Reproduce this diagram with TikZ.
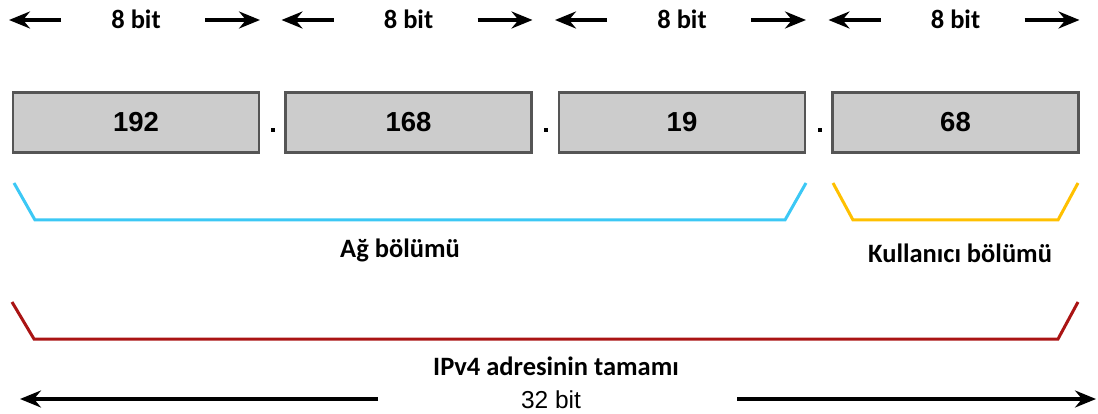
\documentclass[tikz,border=0pt]{standalone}
\usepackage{fontspec}
\setmainfont{Carlito}
\newfontfamily\arialfont{Liberation Sans}
\usetikzlibrary{arrows.meta}
\definecolor{boxfill}{RGB}{204,204,204}
\definecolor{boxline}{RGB}{85,85,85}
\definecolor{netblue}{RGB}{60,200,245}
\definecolor{hostgold}{RGB}{255,192,0}
\definecolor{fullred}{RGB}{170,20,20}
\tikzset{
  octet/.style={draw=boxline, line width=2.2pt, fill=boxfill, minimum width=246pt, minimum height=60pt,
    inner sep=0pt, font=\arialfont\bfseries\fontsize{27.5}{30}\selectfont},
  bitlabel/.style={font=\bfseries\fontsize{26.5}{28}\selectfont, inner sep=0pt},
  partlabel/.style={font=\bfseries\fontsize{26.5}{28}\selectfont, inner sep=0pt},
  totallabel/.style={font=\arialfont\fontsize{24.5}{28}\selectfont, inner sep=0pt},
  sizearrow/.style={line width=3.2pt, -{Stealth[length=21pt,width=17pt,inset=7pt]}},
  bracket/.style={line width=3pt, line join=miter},
  sep/.style={fill=black, inner sep=0pt, minimum size=4pt}
}
\begin{document}
\begin{tikzpicture}[x=1pt,y=-1pt]
\useasboundingbox (0,0) rectangle (1098,414);

% four octets
\node[octet] (o1) at (136,122.5) {192};
\node[octet] (o2) at (408.5,122.5) {168};
\node[octet] (o3) at (682,122.5) {19};
\node[octet] (o4) at (955.5,122.5) {68};

% separating dots
\node[sep] (d1) at (273,130) {};
\node[sep] (d2) at (546,130) {};
\node[sep] (d3) at (820,130) {};

% 8 bit labels with arrows
\foreach \i/\c in {1/136, 2/408.5, 3/682, 4/955.5}{
  \node[bitlabel] (b\i) at (\c,19) {8 bit};
  \coordinate (bl\i) at (\c-75,20);
  \coordinate (blt\i) at (\c-127,20);
  \coordinate (br\i) at (\c+69,20);
  \coordinate (brt\i) at (\c+124,20);
  \draw[sizearrow] (bl\i) -- (blt\i);
  \draw[sizearrow] (br\i) -- (brt\i);
}

% network part bracket
\coordinate (n1) at (14,183);
\coordinate (n2) at (35,220);
\coordinate (n3) at (785,220);
\coordinate (n4) at (806,183);
\draw[bracket, netblue] (n1) -- (n2) -- (n3) -- (n4);
\node[partlabel] (net) at (400,250) {Ağ bölümü};

% host part bracket
\coordinate (h1) at (833,183);
\coordinate (h2) at (853,220);
\coordinate (h3) at (1058,220);
\coordinate (h4) at (1078,183);
\draw[bracket, hostgold] (h1) -- (h2) -- (h3) -- (h4);
\node[partlabel] (host) at (960,253) {Kullanıcı bölümü};

% whole address bracket
\coordinate (f1) at (12,302);
\coordinate (f2) at (34,339);
\coordinate (f3) at (1058,339);
\coordinate (f4) at (1078,302);
\draw[bracket, fullred] (f1) -- (f2) -- (f3) -- (f4);
\node[partlabel] (full) at (556,366) {IPv4 adresinin tamamı};

% 32 bit span
\node[totallabel] (total) at (551,400) {32 bit};
\coordinate (tl) at (378,399);
\coordinate (tlt) at (20,399);
\coordinate (tr) at (737,399);
\coordinate (trt) at (1096,399);
\draw[sizearrow] (tl) -- (tlt);
\draw[sizearrow] (tr) -- (trt);
\end{tikzpicture}
\end{document}
